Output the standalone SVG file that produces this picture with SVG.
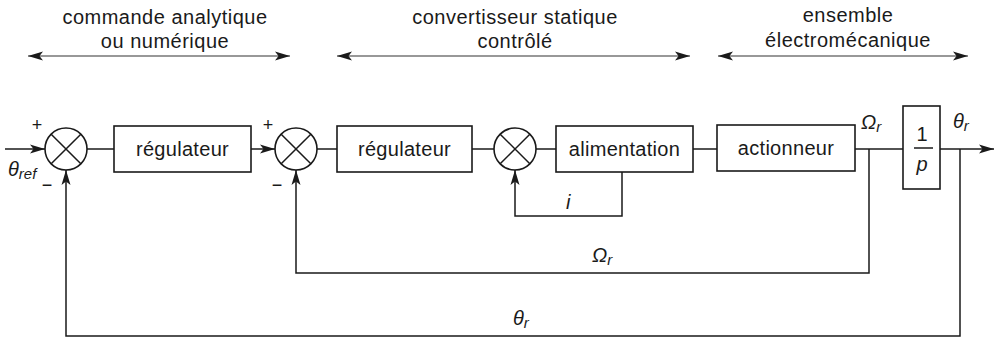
<svg xmlns="http://www.w3.org/2000/svg" width="998" height="338" viewBox="0 0 998 338">
<defs>
<marker id="ah" markerUnits="userSpaceOnUse" markerWidth="16" markerHeight="10" refX="15" refY="5" orient="auto-start-reverse">
<path d="M0,0.5 L15,5 L0,9.5 L3.5,5 z" fill="#1a1a1a"/>
</marker>
<style>
.ln{fill:none;stroke:#1a1a1a;stroke-width:1.5}
.bx{fill:#fff;stroke:#1a1a1a;stroke-width:1.6}
.t{font-family:"Liberation Sans",Arial,sans-serif;font-size:20px;letter-spacing:0.3px;fill:#1a1a1a;text-anchor:middle}
.h{font-family:"Liberation Sans",Arial,sans-serif;font-size:20px;letter-spacing:0.5px;fill:#1a1a1a;text-anchor:middle}
.m{font-family:"Liberation Sans",Arial,sans-serif;font-style:italic;font-size:20px;fill:#1a1a1a}
.s{font-family:"Liberation Sans",Arial,sans-serif;font-size:18px;fill:#1a1a1a;text-anchor:middle}
.thin{fill:none;stroke:#333;stroke-width:1.2}
</style>
</defs>

<g id="headers">
<text class="h" x="165" y="24">commande analytique</text>
<text class="h" x="165" y="48">ou numérique</text>
<text class="h" x="515" y="24">convertisseur statique</text>
<text class="h" x="515" y="48">contrôlé</text>
<text class="h" x="848" y="22">ensemble</text>
<text class="h" x="848" y="47">électromécanique</text>
<line class="thin" x1="28" y1="56" x2="290" y2="56" marker-start="url(#ah)" marker-end="url(#ah)"/>
<line class="thin" x1="337" y1="56" x2="690" y2="56" marker-start="url(#ah)" marker-end="url(#ah)"/>
<line class="thin" x1="718" y1="56" x2="968" y2="56" marker-start="url(#ah)" marker-end="url(#ah)"/>
</g>

<g id="connectors">
<path class="ln" d="M5,149 L45,149" marker-end="url(#ah)"/>
<path class="ln" d="M87,149 L114,149"/>
<path class="ln" d="M251,149 L275,149" marker-end="url(#ah)"/>
<path class="ln" d="M317,149 L337,149"/>
<path class="ln" d="M472,149 L494,149"/>
<path class="ln" d="M536,149 L556,149"/>
<path class="ln" d="M693,149 L717,149"/>
<path class="ln" d="M855,149 L903,149"/>
<path class="ln" d="M940,149 L994,149" marker-end="url(#ah)"/>
<path class="ln" d="M622,172 L622,216 L515,216 L515,170" marker-end="url(#ah)"/>
<path class="ln" d="M869,149 L869,273 L296,273 L296,170" marker-end="url(#ah)"/>
<path class="ln" d="M960,149 L960,336 L66,336 L66,170" marker-end="url(#ah)"/>
</g>

<g id="sum1">
<circle class="bx" cx="66" cy="149" r="21"/>
<path class="ln" d="M51.2,134.2 L80.8,163.8 M80.8,134.2 L51.2,163.8"/>
<text class="s" x="37" y="131">+</text>
<text class="s" x="47" y="191">−</text>
</g>
<g id="reg1">
<rect class="bx" x="114" y="126" width="137" height="46"/>
<text class="t" x="182.5" y="156">régulateur</text>
</g>
<g id="sum2">
<circle class="bx" cx="296" cy="149" r="21"/>
<path class="ln" d="M281.2,134.2 L310.8,163.8 M310.8,134.2 L281.2,163.8"/>
<text class="s" x="268" y="131">+</text>
<text class="s" x="277" y="191">−</text>
</g>
<g id="reg2">
<rect class="bx" x="337" y="126" width="135" height="46"/>
<text class="t" x="404.5" y="156">régulateur</text>
</g>
<g id="sum3">
<circle class="bx" cx="515" cy="149" r="21"/>
<path class="ln" d="M500.2,134.2 L529.8,163.8 M529.8,134.2 L500.2,163.8"/>
</g>
<g id="alim">
<rect class="bx" x="556" y="126" width="137" height="46"/>
<text class="t" x="624.5" y="156">alimentation</text>
</g>
<g id="act">
<rect class="bx" x="717" y="125" width="138" height="46"/>
<text class="t" x="786" y="155">actionneur</text>
</g>
<g id="integ">
<rect class="bx" x="903" y="106" width="37" height="83"/>
<text class="s" x="922" y="141" style="font-size:20px">1</text>
<line class="ln" x1="914" y1="148" x2="933" y2="148"/>
<text class="m" x="922" y="171" text-anchor="middle">p</text>
</g>

<g id="labels">
<text class="m" x="8" y="176">θ<tspan font-size="15" dy="3">ref</tspan></text>
<text class="m" x="566" y="209">i</text>
<text class="m" x="861" y="129">Ω<tspan font-size="15" dy="3">r</tspan></text>
<text class="m" x="953" y="128">θ<tspan font-size="15" dy="3">r</tspan></text>
<text class="m" x="592" y="262">Ω<tspan font-size="15" dy="3">r</tspan></text>
<text class="m" x="513" y="325">θ<tspan font-size="15" dy="3">r</tspan></text>
</g>
</svg>
